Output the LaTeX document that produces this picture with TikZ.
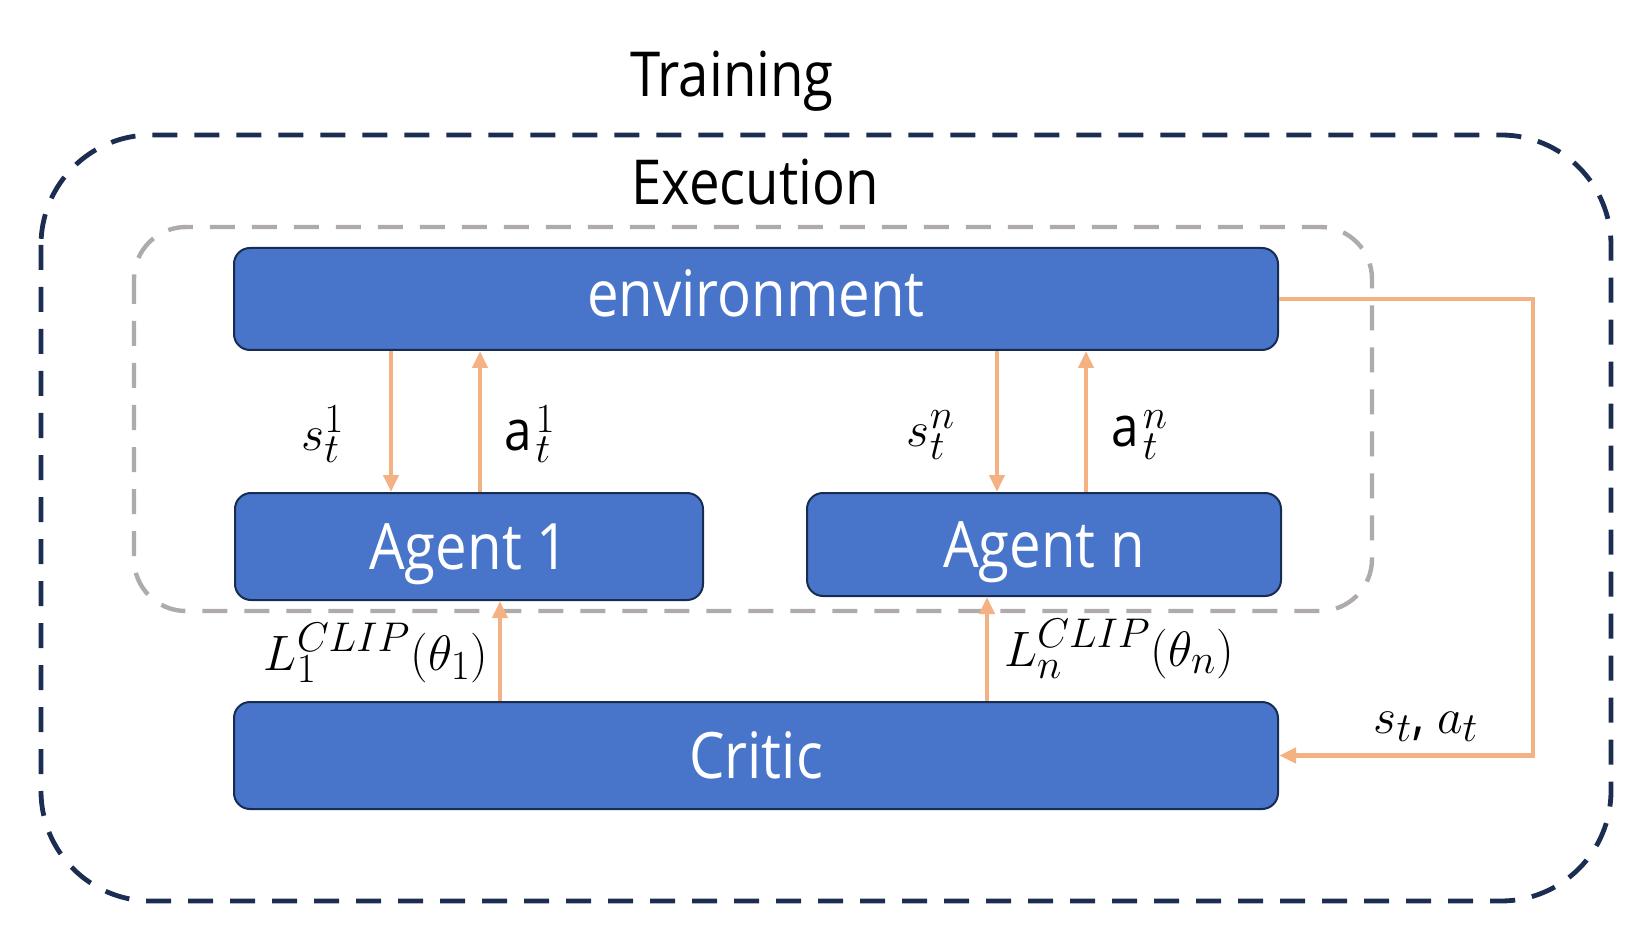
\documentclass[tikz,border=0pt]{standalone}
\usepackage{fontspec}
\setmainfont{Open Sans}[FakeStretch=0.88]
\usetikzlibrary{arrows.meta}
\definecolor{boxblue}{HTML}{4874CA}
\definecolor{boxedge}{HTML}{172C51}
\definecolor{outerdash}{HTML}{1C2D52}
\definecolor{grayd}{HTML}{AFABAB}
\definecolor{arrorange}{HTML}{F4B183}
\begin{document}
\begin{tikzpicture}[x=0.5pt,y=-0.5pt,
  bluebox/.style={draw=boxedge, line width=1pt, fill=boxblue, rounded corners=8pt,
    inner sep=0pt, text=white, font=\fontsize{32}{38}\selectfont, text depth=0pt},
  capbox/.style={bluebox, text height=22.8pt},
  xbox/.style={bluebox, text height=17.1pt},
  title/.style={anchor=base, inner sep=0pt, font=\fontsize{31}{36}\selectfont},
  mathlbl/.style={inner sep=0pt, font=\fontsize{28}{32}\selectfont},
  arr/.style={draw=arrorange, line width=2.4pt, line join=miter,
    -{Triangle[length=8.5pt,width=7.5pt]}},
  dashbox/.style={line width=2.4pt, dash pattern=on 12.5pt off 8.5pt}
]
\useasboundingbox (0,0) rectangle (1645,952);
% containers
\draw[dashbox, draw=outerdash, rounded corners=55pt] (41,135) rectangle (1611,901);
\draw[dashbox, draw=grayd, line width=2.2pt, rounded corners=26pt] (134,227) rectangle (1372,611);
% titles
\node[title] (train) at (732,97) {Training};
\node[title] (exec) at (755,205) {Execution};
% boxes
\node[xbox, minimum width=522pt, minimum height=51pt] (env) at (756,299) {environment};
\node[capbox, minimum width=234pt, minimum height=53.5pt] (ag1) at (469,546.5) {Agent 1};
\node[capbox, minimum width=237pt, minimum height=51.5pt] (agn) at (1044,544.5) {Agent n};
\node[capbox, minimum width=522pt, minimum height=53.5pt] (critic) at (756,755.5) {Critic};
% arrow x positions
\coordinate (xs1) at (391,0);
\coordinate (xa1) at (480,0);
\coordinate (xsn) at (997,0);
\coordinate (xan) at (1086,0);
\coordinate (xl1) at (500,0);
\coordinate (xln) at (987,0);
\coordinate (fb) at (1533,500);
% arrows
\draw[arr] (env.south -| xs1) -- (ag1.north -| xs1);
\draw[arr] (ag1.north -| xa1) -- (env.south -| xa1);
\draw[arr] (env.south -| xsn) -- (agn.north -| xsn);
\draw[arr] (agn.north -| xan) -- (env.south -| xan);
\draw[arr] (critic.north -| xl1) -- (ag1.south -| xl1);
\draw[arr] (critic.north -| xln) -- (agn.south -| xln);
\draw[arr] (env.east) -| (fb) |- (critic.east);
% labels
\node[mathlbl] (ls1) at (323,434) {$s_t^1$};
\node[mathlbl] (la1) at (530,434) {$\mathrm{a}_t^1$};
\node[mathlbl] (lsn) at (931,435) {$s_t^n$};
\node[mathlbl] (lan) at (1140,435) {$\mathrm{a}_t^n$};
\node[mathlbl] (ll1) at (376,653) {$L_1^{CLIP}(\theta_1)$};
\node[mathlbl] (lln) at (1119,649) {$L_n^{CLIP}(\theta_n)$};
\node[mathlbl] (lsa) at (1426,727) {$s_t$, $a_t$};
\end{tikzpicture}
\end{document}
